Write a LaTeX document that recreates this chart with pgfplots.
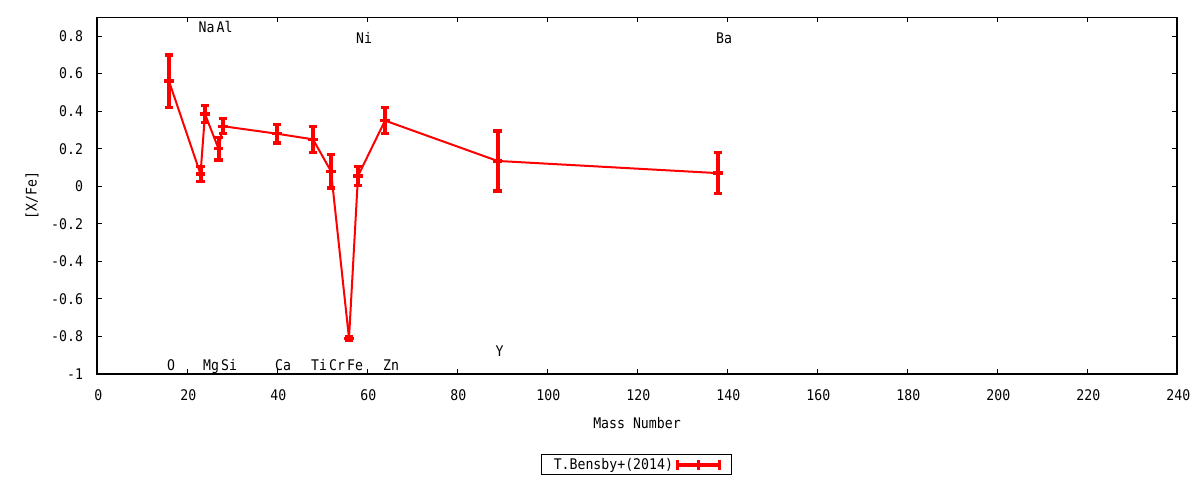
\documentclass[border=0pt]{standalone}
\usepackage{fontspec}
\setmainfont[FakeStretch=0.9]{DejaVu Sans Mono}
\usepackage{pgfplots}
\pgfplotsset{compat=1.18}
\begin{document}
\fontsize{11pt}{13pt}\selectfont
\begin{tikzpicture}
\useasboundingbox (0,0) rectangle (900pt,360pt);
\begin{axis}[
  at={(72.75pt,79.5pt)}, anchor=south west,
  scale only axis, width=810pt, height=267.5pt,
  xmin=0, xmax=240, ymin=-1, ymax=0.9,
  xtick={0,20,40,60,80,100,120,140,160,180,200,220,240},
  xticklabels={0,20,40,60,80,100,120,140,160,180,200,220,240},
  ytick={-1,-0.8,-0.6,-0.4,-0.2,0,0.2,0.4,0.6,0.8},
  yticklabels={-1,-0.8,-0.6,-0.4,-0.2,0,0.2,0.4,0.6,0.8},
  tick align=inside, major tick length=3.4pt,
  tick style={black, line width=0.75pt},
  axis line style={line width=0.9pt},
  xticklabel style={anchor=base, inner sep=0pt, yshift=-20pt, xshift=1pt},
  yticklabel style={anchor=base east, inner sep=0pt, xshift=-10.3pt, yshift=-4pt},
  xlabel={Mass Number}, ylabel={[X/Fe]},
  xlabel style={at={(axis description cs:0.5,0)}, anchor=base, yshift=-41pt},
  ylabel style={at={(axis description cs:-0.0602,0.5)}, anchor=center},
  legend plot pos=right,
  legend style={at={(axis description cs:0.4994,-0.255)}, anchor=center,
    draw=black, line width=0.75pt, inner xsep=7.5pt, inner ysep=0.5pt,
    nodes={inner sep=2pt}},
  legend image code/.code={
    \draw[red, line width=3pt] (0pt,0pt) -- (31.5pt,0pt);
    \draw[red, line width=2.2pt] (0pt,-3.75pt) -- (0pt,3.75pt);
    \draw[red, line width=2.2pt] (15.75pt,-3.75pt) -- (15.75pt,3.75pt);
    \draw[red, line width=2.2pt] (31.5pt,-3.75pt) -- (31.5pt,3.75pt);
  },
]
\addplot[red, line width=1.5pt, mark=-, mark size=3.4pt,
  mark options={line width=2.5pt, solid},
  error bars/.cd, y dir=both, y explicit,
  error bar style={line width=3pt, red},
  error mark options={red, rotate=90, line width=2.5pt, mark size=3.3pt}]
coordinates {
(16,0.56) +- (0,0.14)
(23,0.065) +- (0,0.04)
(24,0.385) +- (0,0.045)
(27,0.20) +- (0,0.06)
(28,0.32) +- (0,0.04)
(40,0.28) +- (0,0.05)
(48,0.25) +- (0,0.07)
(52,0.08) +- (0,0.09)
(56,-0.81) +- (0,0.01)
(58,0.055) +- (0,0.05)
(64,0.35) +- (0,0.07)
(89,0.135) +- (0,0.16)
(138,0.07) +- (0,0.11)
};
\addlegendentry{T.Bensby+(2014)}
\begin{scope}[every node/.style={anchor=base west, inner sep=0pt, xshift=-1.6pt}]
\node at (axis cs:16,-0.98) {O};
\node at (axis cs:23,0.818) {Na};
\node at (axis cs:24,-0.98) {Mg};
\node at (axis cs:27,0.818) {Al};
\node at (axis cs:28,-0.98) {Si};
\node at (axis cs:40,-0.98) {Ca};
\node at (axis cs:48,-0.98) {Ti};
\node at (axis cs:52,-0.98) {Cr};
\node at (axis cs:56,-0.98) {Fe};
\node at (axis cs:58,0.761) {Ni};
\node at (axis cs:64,-0.98) {Zn};
\node at (axis cs:89,-0.908) {Y};
\node at (axis cs:138,0.761) {Ba};
\end{scope}
\end{axis}
\end{tikzpicture}
\end{document}
